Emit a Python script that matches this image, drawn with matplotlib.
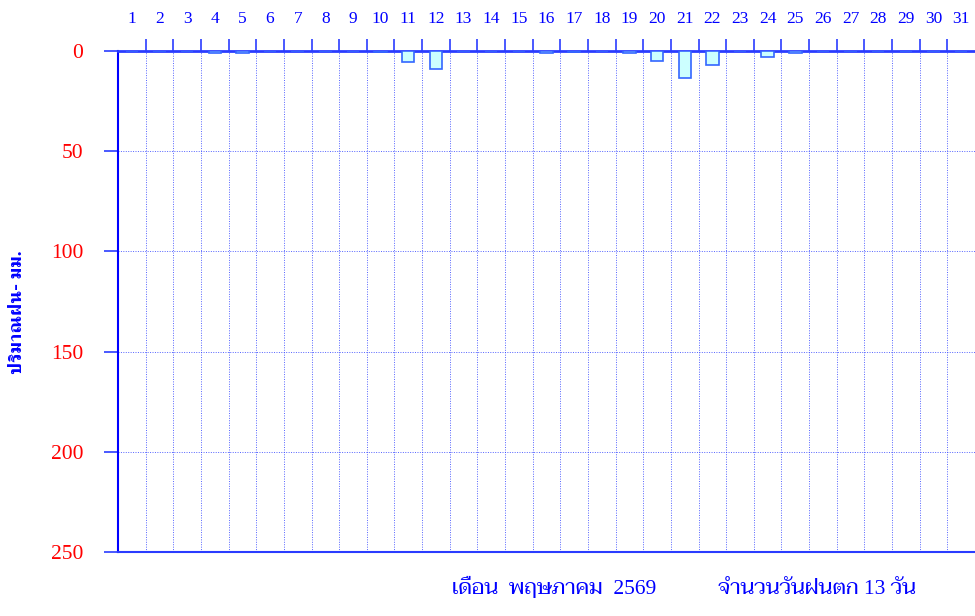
import matplotlib
matplotlib.use("Agg")
import matplotlib.pyplot as plt
from matplotlib.ticker import FixedLocator

plt.rcParams['font.family'] = ['Liberation Serif', 'Taviraj', 'FreeSerif', 'DejaVu Sans']

# ข้อมูลฝนรายวัน (มม.)
days = list(range(1, 32))
rain = [0, 0, 0, 0.8, 0.8, 0, 0, 0, 0, 0.3, 5.6, 9.0, 0, 0, 0, 0.8, 0.7, 0,
        0.8, 4.8, 13.3, 7.0, 0, 2.8, 1.0, 0, 0, 0, 0, 0, 0]
yticks = [0, 50, 100, 150, 200, 250]
ylabel = "ปริมาณฝน- มม."
month_text = "เดือน  พฤษภาคม  2569"
count_text = "จำนวนวันฝนตก 13 วัน"

blue = "#0000ff"
line_blue = "#2a3cff"

fig = plt.figure(figsize=(9.75, 6.16), dpi=100)
ax = fig.add_axes([118 / 975, 1 - 552 / 616, 1 - 118 / 975, 501 / 616])

ax.bar(days, rain, width=0.45, color="#ccffff", edgecolor="#3366ff", linewidth=1.2, zorder=3)
ax.set_xlim(0.5, 31.5)
ax.set_ylim(250, 0)

# แกน x อยู่ด้านบน: เส้นแบ่งวันเป็น major, ตัวเลขวันเป็น minor
ax.xaxis.set_ticks_position('top')
ax.xaxis.set_major_locator(FixedLocator([d + 0.5 for d in days[:-1]]))
ax.xaxis.set_major_formatter(plt.NullFormatter())
ax.xaxis.set_minor_locator(FixedLocator(days))
ax.set_xticklabels([str(d) for d in days], minor=True)
ax.tick_params(axis='x', which='major', direction='out', length=9, width=1.2, color=line_blue)
ax.tick_params(axis='x', which='minor', length=0, pad=17, labelsize=12.5, labelcolor=blue)

ax.set_yticks(yticks)
ax.tick_params(axis='y', direction='out', length=10, width=1.2, color=line_blue,
               pad=15, labelsize=15.5, labelcolor='red')

ax.grid(axis='x', which='major', color=line_blue, linestyle=(0, (1, 1.5)), linewidth=0.7, alpha=0.8)
ax.grid(axis='y', color=line_blue, linestyle=(0, (1, 1.5)), linewidth=0.7, alpha=0.8)

ax.spines['right'].set_visible(False)
ax.spines['top'].set_color(line_blue)
ax.spines['top'].set_linewidth(2)
ax.spines['left'].set_color(blue)
ax.spines['left'].set_linewidth(1.5)
ax.spines['bottom'].set_color(line_blue)
ax.spines['bottom'].set_linewidth(1.5)

fig.text(18 / 975, 1 - 312 / 616, ylabel, rotation=90, ha='center', va='center',
         color=blue, fontsize=14, fontweight='bold', family=['Liberation Serif', 'FreeSerif'])
fig.text(452 / 975, 22 / 616, month_text, ha='left', va='baseline', color=blue, fontsize=15.5)
fig.text(718 / 975, 22 / 616, count_text, ha='left', va='baseline', color=blue, fontsize=15.5)

fig.savefig("out.png", dpi=100)
